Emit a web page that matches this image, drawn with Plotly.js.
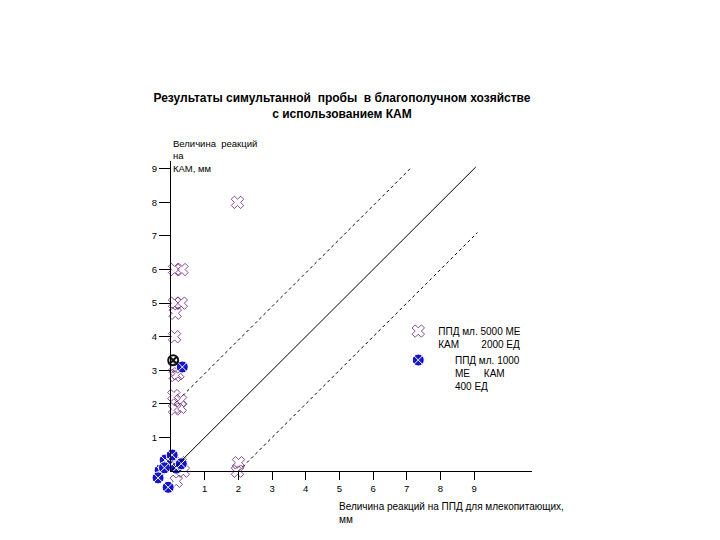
<!DOCTYPE html>
<html>
<head>
<meta charset="utf-8">
<script src="https://cdn.plot.ly/plotly-3.0.0.min.js"></script>
<style>html,body{margin:0;padding:0;background:#fff;}#chart{width:720px;height:540px;}</style>
</head>
<body>
<div id="chart"></div>
<script>
// Series 1: ППД мл. 5000 МЕ / КАМ 2000 ЕД
var ppd5000X = [0.1, 0.32, 0.1, 0.3, 0.12, 0.1, 0.1, 0.2, 0.12, 0.08, 0.28, 0.1, 0.27, 0.27, 0.36, 0.15, 1.97, 2.0, 1.97];
var ppd5000Y = [6.0, 6.0, 5.0, 5.0, 4.7, 4.0, 3.1, 2.9, 2.85, 2.25, 2.1, 1.85, 1.9, 0.25, 0.0, -0.3, 8.0, 0.25, 0.0];
// Series 2: ППД мл. 1000 МЕ / КАМ 400 ЕД
var ppd1000X = [-0.18, -0.33, -0.39, -0.03, 0.15, -0.09, 0.3, 0.03, 0.33, -0.2];
var ppd1000Y = [0.33, 0.03, -0.2, 0.18, 0.09, -0.48, 0.22, 0.48, 3.1, 0.1];
// Extra point (dark circle)
var darkX = [0.06];
var darkY = [3.3];
// Reference lines
var lineEqX = [0, 9.05], lineEqY = [0, 9.05];
var lineUpX = [0.35, 7.15], lineUpY = [2.25, 9.05];
var lineLoX = [2.0, 9.1], lineLoY = [0.0, 7.1];
var tickVals = [1, 2, 3, 4, 5, 6, 7, 8, 9];
var tickText = ['1', '2', '3', '4', '5', '6', '7', '8', '9'];

var FONT = 'Liberation Sans, Arial, sans-serif';

var traces = [
  {x: lineEqX, y: lineEqY, xaxis: 'x2', yaxis: 'y2', mode: 'lines', line: {color: '#000', width: 1}, showlegend: false, hoverinfo: 'skip'},
  {x: lineUpX, y: lineUpY, xaxis: 'x2', yaxis: 'y2', mode: 'lines', line: {color: '#000', width: 1, dash: '3px,3px'}, showlegend: false, hoverinfo: 'skip'},
  {x: lineLoX, y: lineLoY, xaxis: 'x2', yaxis: 'y2', mode: 'lines', line: {color: '#000', width: 1, dash: '3px,3px'}, showlegend: false, hoverinfo: 'skip'},
  {x: ppd5000X, y: ppd5000Y, mode: 'markers', name: 'ППД мл. 5000 МЕ<br>КАМ        2000 ЕД', cliponaxis: false,
   marker: {symbol: 'x-open', size: 11, color: '#6a1e78', line: {color: '#6a1e78', width: 0.8}}},
  {x: ppd1000X, y: ppd1000Y, mode: 'markers', name: '      ППД мл. 1000<br>      МЕ     КАМ<br>      400 ЕД', cliponaxis: false,
   marker: {symbol: 'circle-x', size: 12, color: '#1414c8', line: {color: '#ffffff', width: 1}}},
  {x: darkX, y: darkY, mode: 'markers', showlegend: false, cliponaxis: false,
   marker: {symbol: 'circle-x-open', size: 10, color: '#101010', line: {color: '#101010', width: 2}}}
];

var layout = {
  width: 720, height: 540,
  paper_bgcolor: '#fff', plot_bgcolor: 'rgba(0,0,0,0)',
  margin: {l: 151, r: 188, t: 161, b: 47},
  font: {family: FONT, size: 10, color: '#000'},
  title: {text: '<b>Результаты симультанной  пробы  в благополучном хозяйстве<br>с использованием КАМ</b>',
          font: {family: FONT, size: 12, color: '#000'}, x: 0.475, xanchor: 'center', xref: 'container',
          y: 0.811, yanchor: 'middle', yref: 'container'},
  xaxis: {domain: [0, 1], range: [-0.6, 10.72], visible: false, fixedrange: true},
  yaxis: {domain: [0, 1], range: [-0.65, 9.23], visible: false, fixedrange: true},
  xaxis2: {domain: [0.0525, 1], range: [0, 10.72], anchor: 'y2', showgrid: false, zeroline: false, showline: true,
           linecolor: '#000', linewidth: 1, ticks: 'outside', ticklen: 8, tickcolor: '#000',
           tickvals: tickVals, ticktext: tickText, tickfont: {family: FONT, size: 9.5, color: '#000'}},
  yaxis2: {domain: [0.0658, 1], range: [0, 9.23], anchor: 'x2', showgrid: false, zeroline: false, showline: true,
           linecolor: '#000', linewidth: 1, ticks: 'outside', ticklen: 11, tickcolor: '#000',
           tickvals: tickVals, ticktext: tickText, tickfont: {family: FONT, size: 9.5, color: '#000'}},
  showlegend: true,
  legend: {x: 0.649, y: 0.527, xanchor: 'left', yanchor: 'top', bgcolor: 'rgba(0,0,0,0)', valign: 'top',
           font: {family: FONT, size: 10, color: '#000'}, tracegroupgap: 22, traceorder: 'normal'},
  annotations: [
    {xref: 'x2', x: 0, yref: 'paper', y: 1.075, xanchor: 'left', yanchor: 'top', align: 'left', showarrow: false,
     text: 'Величина  реакций<br>на<br>КАМ, мм', font: {family: FONT, size: 9.5, color: '#000'}},
    {xref: 'x2', x: 4.92, yref: 'paper', y: -0.018, xanchor: 'left', yanchor: 'top', align: 'left', showarrow: false,
     text: 'Величина реакций на ППД для млекопитающих,<br>мм', font: {family: FONT, size: 10, color: '#000'}}
  ]
};

Plotly.newPlot('chart', traces, layout, {displayModeBar: false, staticPlot: true});
</script>
</body>
</html>
